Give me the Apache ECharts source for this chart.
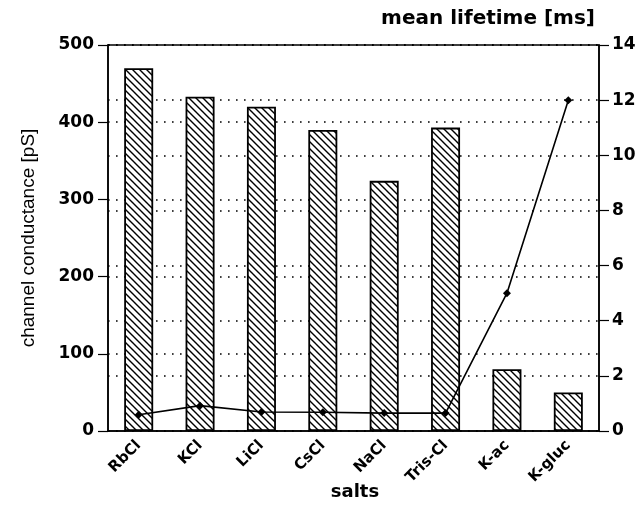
<!DOCTYPE html>
<html>
<head>
<meta charset="utf-8">
<script src="https://cdn.jsdelivr.net/npm/echarts@6/dist/echarts.min.js"></script>
<style>
  html, body { margin: 0; padding: 0; background: #fff; }
  #chart { width: 644px; height: 508px; }
</style>
</head>
<body>
<div id="chart"></div>
<script>
// Salt solutions on the x axis
const salts = ['RbCl', 'KCl', 'LiCl', 'CsCl', 'NaCl', 'Tris-Cl', 'K-ac', 'K-gluc'];
// Single-channel conductance (pS), hatched bars on the left axis
const conductance = [470, 433, 420, 390, 324, 393, 80, 50];
// Mean open lifetime (ms), line on the right axis
const lifetime = [0.59, 0.92, 0.69, 0.68, 0.65, 0.65, 5, 12];
// Tick settings for both value axes
const leftTicks = { min: 0, max: 500, interval: 100 };
const rightTicks = { min: 0, max: 14, interval: 2 };

// Diagonal hatch tile for the bars
function hatchTile() {
  const s = 7;
  const c = document.createElement('canvas');
  c.width = s; c.height = s;
  const g = c.getContext('2d');
  g.fillStyle = '#fff';
  g.fillRect(0, 0, s, s);
  g.strokeStyle = '#000';
  g.lineWidth = 1.4;
  g.beginPath();
  g.moveTo(-1, -1); g.lineTo(s + 1, s + 1);
  g.moveTo(-1, s - 1); g.lineTo(1, s + 1);
  g.moveTo(s - 1, -1); g.lineTo(s + 1, 1);
  g.stroke();
  return c;
}

const boldFont = 'DejaVu Sans';
const dotted = { color: '#000', width: 1.6, type: [1.6, 6.4] };

const chart = echarts.init(document.getElementById('chart'), null, { renderer: 'canvas' });
chart.setOption({
  animation: false,
  backgroundColor: '#fff',
  title: {
    text: 'mean lifetime [ms]',
    right: 44,
    top: 4,
    textStyle: { fontFamily: boldFont, fontWeight: 'bold', fontSize: 20, color: '#000' }
  },
  // x-axis caption under the rotated category labels
  graphic: [{
    type: 'text',
    x: 355,
    y: 492,
    style: {
      text: 'salts',
      align: 'center',
      verticalAlign: 'middle',
      fontFamily: boldFont,
      fontWeight: 'bold',
      fontSize: 18,
      fill: '#000'
    }
  }],
  grid: {
    left: 108, right: 45, top: 45, bottom: 77,
    containLabel: false,
    outerBoundsMode: 'none',
    show: true, borderColor: '#000', borderWidth: 1.5, backgroundColor: 'transparent'
  },
  xAxis: {
    type: 'category',
    data: salts,
    axisLine: { lineStyle: { color: '#000', width: 1.5 } },
    axisTick: { alignWithLabel: true, length: 9, lineStyle: { color: '#000', width: 1.2 } },
    axisLabel: {
      rotate: 45, margin: 12, interval: 0,
      fontFamily: boldFont, fontWeight: 'bold', fontSize: 15, color: '#000'
    }
  },
  yAxis: [
    {
      type: 'value',
      position: 'left',
      min: leftTicks.min, max: leftTicks.max, interval: leftTicks.interval,
      name: 'channel conductance [pS]',
      nameLocation: 'middle',
      nameRotate: 90,
      nameGap: 70,
      nameTextStyle: { fontFamily: 'Liberation Sans Narrow, Liberation Sans, sans-serif', fontSize: 19, color: '#000' },
      axisLine: { show: true, lineStyle: { color: '#000', width: 1.5 } },
      axisTick: { show: true, length: 10, lineStyle: { color: '#000', width: 1.2 } },
      axisLabel: { margin: 14, fontFamily: boldFont, fontWeight: 'bold', fontSize: 17, color: '#000' },
      splitLine: { show: true, lineStyle: dotted }
    },
    {
      type: 'value',
      position: 'right',
      min: rightTicks.min, max: rightTicks.max, interval: rightTicks.interval,
      axisLine: { show: true, lineStyle: { color: '#000', width: 1.5 } },
      axisTick: { show: true, length: 10, lineStyle: { color: '#000', width: 1.2 } },
      axisLabel: { margin: 13, fontFamily: boldFont, fontWeight: 'bold', fontSize: 17, color: '#000' },
      splitLine: { show: true, lineStyle: dotted }
    }
  ],
  series: [
    {
      type: 'bar',
      yAxisIndex: 0,
      data: conductance,
      barWidth: 29,
      itemStyle: {
        color: { image: hatchTile(), repeat: 'repeat' },
        borderColor: '#000',
        borderWidth: 1.8
      },
      z: 2
    },
    {
      type: 'line',
      yAxisIndex: 1,
      data: lifetime,
      symbol: 'diamond',
      symbolSize: 8,
      itemStyle: { color: '#000' },
      lineStyle: { color: '#000', width: 1.6 },
      z: 5
    }
  ]
});
</script>
</body>
</html>
